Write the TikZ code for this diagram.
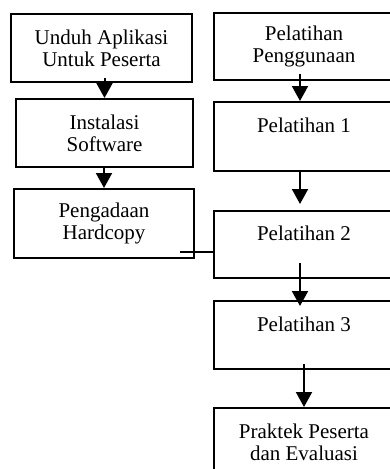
\documentclass[tikz,border=0pt]{standalone}
\usepackage{fontspec}
\setmainfont{Liberation Serif}
\usepackage{tikz}
\usetikzlibrary{arrows.meta, calc}

\tikzset{
    box/.style={draw, line width=2pt, inner sep=0pt, align=center,
        font=\fontsize{21}{21.7}\selectfont},
    arr/.style={line width=2pt, -{Triangle[width=16pt,length=15pt]}},
    link/.style={line width=1.5pt}
}

\begin{document}
\begin{tikzpicture}[x=1pt, y=1pt]
        \useasboundingbox (0,0) rectangle (390,-469);
        \clip (0,0) rectangle (390,-469);

        \node[box, minimum width=181pt, minimum height=68pt] (unduh) at (101.5,-48) {Unduh Aplikasi\\Untuk Peserta};
        \node[box, minimum width=177pt, minimum height=68pt] (instal) at (104.5,-133) {Instalasi\\Software};
        \node[box, minimum width=180pt, minimum height=69pt] (hard) at (104,-223.5) {Pengadaan\\Hardcopy};

        \node[box, minimum width=180pt, minimum height=67pt] (peng) at (304,-46.5) {Pelatihan\\Penggunaan};
        \node[box, minimum width=180pt, minimum height=69pt] (p1) at (304,-136.5) {Pelatihan 1\\~};
        \node[box, minimum width=180pt, minimum height=67pt] (p2) at (304,-244.5) {Pelatihan 2\\~};
        \node[box, minimum width=180pt, minimum height=68pt] (p3) at (304,-335) {Pelatihan 3\\~};
        \node[box, minimum width=180pt, minimum height=69pt] (prak) at (304,-442.5) {Praktek Peserta\\dan Evaluasi};

        \draw[arr] ($(instal.north |- unduh.south)+(0,5)$) -- (instal.north);
        \draw[arr] ($(hard.north |- instal.south)$) -- (hard.north);

        \draw[arr] ($(peng.south)+(-4,7)$) -- ($(p1.north)+(-4,0)$);
        \draw[arr] ($(p1.south)+(-4,0)$) -- ($(p2.north)+(-4,6)$);
        \draw[arr] ($(p2.south)+(-4,16)$) -- ($(p3.north)+(-4,-6)$);
        \draw[arr] ($(p3.south)+(0,6)$) -- (prak.north);

        \coordinate (hc) at ($(hard.south east)+(-15,7)$);
        \draw[link] (hc) -- (hc -| p2.west);

    \end{tikzpicture}
\end{document}
